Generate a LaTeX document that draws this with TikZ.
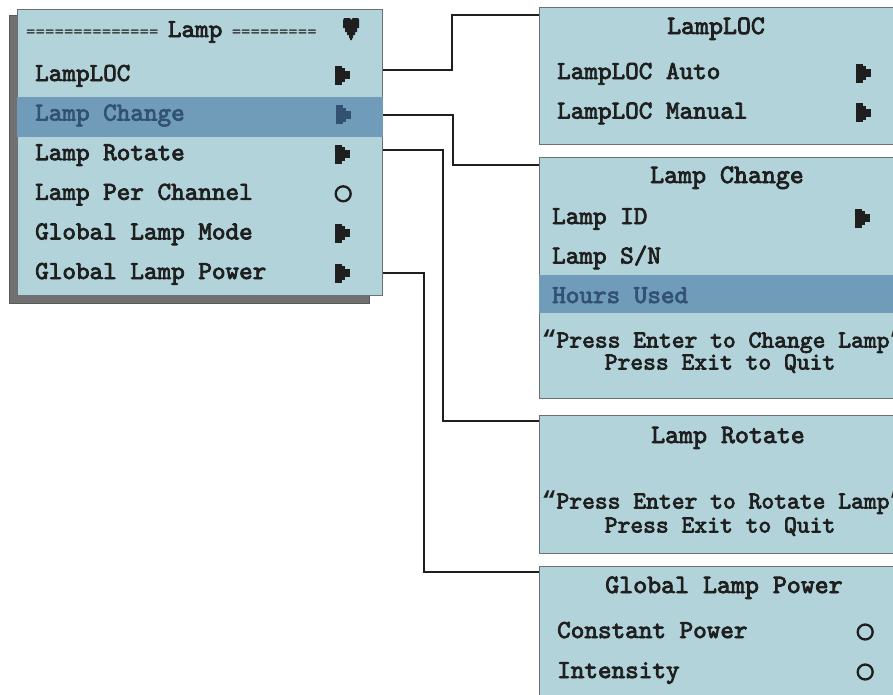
\documentclass[tikz,border=0pt]{standalone}
\usepackage{fontspec}
\usepackage{xcolor}
\usepackage{tikz}
\usetikzlibrary{positioning}

\newfontfamily\osdfont{lmmono10-regular}[Extension=.otf, FakeBold=3]
\newfontfamily\eqfont{lmmono10-regular}[Extension=.otf]
\newfontfamily\quotefont{Liberation Mono}
\newcommand\eqsize{\eqfont\fontsize{18}{20}\selectfont}
\newcommand\osdopen{{\quotefont\bfseries “}}
\newcommand\osdclose{{\quotefont\bfseries ”}}

\definecolor{osdfill}{RGB}{177,211,217}
\definecolor{osdsel}{RGB}{112,156,186}
\definecolor{osdseltext}{RGB}{50,82,114}
\definecolor{osdshadow}{RGB}{112,112,112}
\definecolor{osdedge}{RGB}{108,112,114}

\tikzset{
  pics/subicon/.style={code={
    \fill (0,-9.5) rectangle (7,9.5);
    \fill (7,-7) rectangle (10,7);
    \fill (10,-4) rectangle (15,4);
  }},
  pics/opticon/.style={code={
    \draw[line width=2.3pt] (0,0) circle[radius=7.5];
  }},
  pics/hearticon/.style={code={
    \fill (-8,-9) -- (-7,-11) -- (-1.5,-11) -- (0,-9) -- (1.5,-11) -- (7,-11) -- (8,-9)
      -- (8,-1) -- (6,-1) -- (6,3) -- (4,3) -- (4,6) -- (2,6) -- (2,9) -- (1,9) -- (1,11)
      -- (-1,11) -- (-1,9) -- (-2,9) -- (-2,6) -- (-4,6) -- (-4,3) -- (-6,3) -- (-6,-1)
      -- (-8,-1) -- cycle;
  }}
}

\begin{document}
\begin{tikzpicture}[
  x=1pt, y=-1pt,
  osdbox/.style={draw=osdedge, fill=osdfill, line width=1.2pt, inner sep=0pt, anchor=north west},
  item/.style={font=\osdfont\fontsize{25.9}{30}\selectfont, text=black!88, inner sep=0pt, text height=17pt, text depth=5pt, anchor=west},
  ttl/.style={item, font=\osdfont\fontsize{26.6}{30}\selectfont, anchor=center},
  hint/.style={font=\osdfont\fontsize{24.4}{27}\selectfont, text=black!88, inner sep=0pt, text height=16pt, text depth=5pt},
  sel/.style={text=osdseltext},
  wire/.style={draw=black!88, line width=2.2pt},
  ink/.style={black!88}
]
\useasboundingbox (0,0) rectangle (893,694);
\clip (0,0) rectangle (893,694);

% ── Main menu ────────────────────────────────────────────────
\node[osdbox, minimum width=365pt, minimum height=286pt] (main) at (17,9) {};
\filldraw[fill=osdshadow, draw=black!65, line width=0.8pt]
  ([shift={(-8pt,-6pt)}]main.north west) rectangle ([shift={(-14pt,-7pt)}]main.south east);
\node[osdbox, minimum width=365pt, minimum height=286pt] at (main.north west) {};
\fill[osdsel] ([yshift=-88pt]main.north west) rectangle ([yshift=-128pt]main.north east);

\node[item] (hdr) at ([xshift=9pt, yshift=-22pt]main.north west)
  {{\eqsize============== }Lamp{\eqsize\ =========}};
\pic[ink] at ([xshift=-32pt, yshift=-20pt]main.north east) {hearticon};

\node[item] (loc) at ([xshift=18pt, yshift=-66pt]main.north west) {LampLOC};
\node[item, sel, below=39.6pt of loc.west, anchor=west] (chg)  {Lamp Change};
\node[item, below=39.6pt of chg.west, anchor=west]      (rot)  {Lamp Rotate};
\node[item, below=39.6pt of rot.west, anchor=west]      (chan) {Lamp Per Channel};
\node[item, below=39.6pt of chan.west, anchor=west]     (mode) {Global Lamp Mode};
\node[item, below=39.6pt of mode.west, anchor=west]     (pwr)  {Global Lamp Power};

\pic[ink]        at ([xshift=-48pt]main.east |- loc.west)  {subicon};
\pic[osdseltext] at ([xshift=-47pt]main.east |- chg.west)  {subicon};
\pic[ink]        at ([xshift=-48pt]main.east |- rot.west)  {subicon};
\pic[ink]        at ([xshift=-40pt]main.east |- chan.west) {opticon};
\pic[ink]        at ([xshift=-48pt]main.east |- mode.west) {subicon};
\pic[ink]        at ([xshift=-48pt]main.east |- pwr.west)  {subicon};

% ── LampLOC submenu ──────────────────────────────────────────
\node[osdbox, minimum width=370pt, minimum height=137pt] (locbox) at (539,7) {};
\node[ttl] (loctitle) at ([xshift=177pt, yshift=-21pt]locbox.north west) {LampLOC};
\node[item] (auto) at ([xshift=18pt, yshift=-66pt]locbox.north west) {LampLOC Auto};
\node[item, below=39.6pt of auto.west, anchor=west] (manual) {LampLOC Manual};
\pic[ink] at ([xshift=-54pt]locbox.east |- auto.west)   {subicon};
\pic[ink] at ([xshift=-54pt]locbox.east |- manual.west) {subicon};

% ── Lamp Change submenu ──────────────────────────────────────
\node[osdbox, minimum width=370pt, minimum height=241pt] (chgbox) at (539,157) {};
\fill[osdsel] ([yshift=-118pt]chgbox.north west) rectangle ([yshift=-156pt]chgbox.north east);
\node[ttl] (chgtitle) at ([xshift=188pt, yshift=-20pt]chgbox.north west) {Lamp Change};
\node[item] (lampid) at ([xshift=13pt, yshift=-61pt]chgbox.north west) {Lamp ID};
\node[item, below=39.5pt of lampid.west, anchor=west] (lampsn) {Lamp S/N};
\node[item, sel, below=39.5pt of lampsn.west, anchor=west] (hours) {Hours Used};
\node[hint] (chgquote) at ([xshift=184pt, yshift=-185pt]chgbox.north west) {\osdopen Press Enter to Change Lamp\osdclose};
\node[hint] (chgexit)  at ([xshift=181pt, yshift=-207pt]chgbox.north west) {Press Exit to Quit};
\pic[ink] at ([xshift=-55pt]chgbox.east |- lampid.west) {subicon};

% ── Lamp Rotate submenu ──────────────────────────────────────
\node[osdbox, minimum width=370pt, minimum height=138pt] (rotbox) at (539,415) {};
\node[ttl] (rottitle) at ([xshift=189pt, yshift=-22pt]rotbox.north west) {Lamp Rotate};
\node[hint] (rotquote) at ([xshift=184pt, yshift=-88pt]rotbox.north west) {\osdopen Press Enter to Rotate Lamp\osdclose};
\node[hint] (rotexit)  at ([xshift=181pt, yshift=-112pt]rotbox.north west) {Press Exit to Quit};

% ── Global Lamp Power submenu ────────────────────────────────
\node[osdbox, minimum width=370pt, minimum height=140pt] (pwrbox) at (539,566) {};
\node[ttl] (pwrtitle) at ([xshift=185pt, yshift=-21pt]pwrbox.north west) {Global Lamp Power};
\node[item] (const) at ([xshift=18pt, yshift=-66pt]pwrbox.north west) {Constant Power};
\node[item, below=40pt of const.west, anchor=west] (intens) {Intensity};
\pic[ink] at ([xshift=-45pt]pwrbox.east |- const.west)  {opticon};
\pic[ink] at ([xshift=-45pt]pwrbox.east |- intens.west) {opticon};

% ── Links to submenus ────────────────────────────────────────
\draw[wire] ([yshift=5pt]main.east |- loc.west) -- ++(69pt,0) |- ([yshift=-8pt]locbox.north west);
\draw[wire] (main.east |- chg.west) -- ++(70pt,0) |- ([yshift=-8pt]chgbox.north west);
\draw[wire] ([yshift=4pt]main.east |- rot.west) -- ++(60pt,0) |- ([yshift=-6pt]rotbox.north west);
\draw[wire] (main.east |- pwr.west) -- ++(41pt,0) |- ([yshift=-6pt]pwrbox.north west);

\end{tikzpicture}
\end{document}
